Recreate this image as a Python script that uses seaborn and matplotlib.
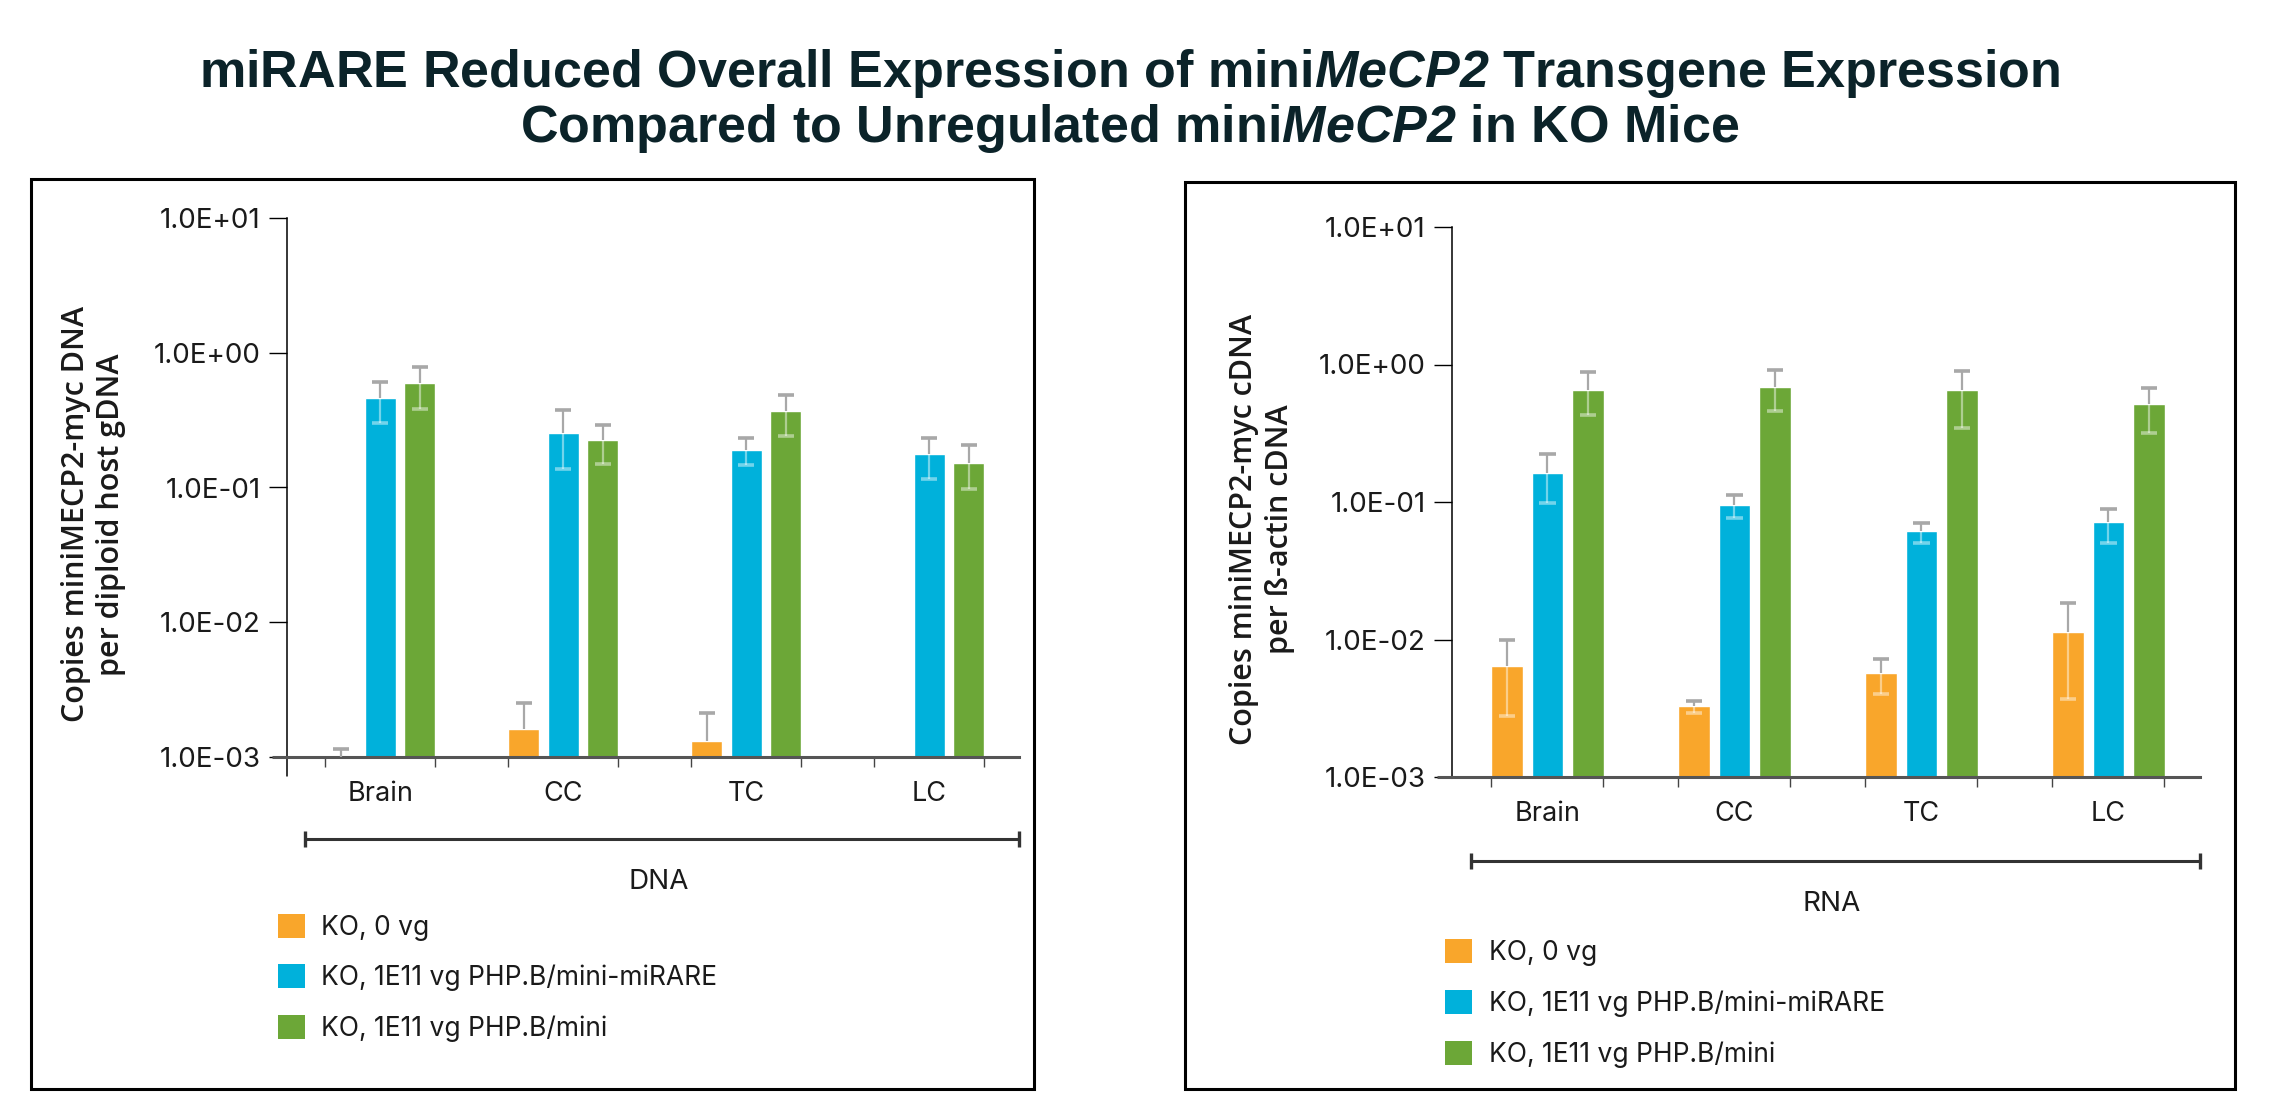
import numpy as np
import pandas as pd
import seaborn as sns
import matplotlib.pyplot as plt
from matplotlib.patches import Patch, Rectangle
from matplotlib.ticker import NullLocator

# ---- data ----
categories = ["Brain", "CC", "TC", "LC"]
groups = ["KO, 0 vg", "KO, 1E11 vg PHP.B/mini-miRARE", "KO, 1E11 vg PHP.B/mini"]
colors = ["#F9A62B", "#00B1DB", "#6CA737"]

ytick_values = [1e-3, 1e-2, 1e-1, 1e0, 1e1]
ytick_labels = ["1.0E-03", "1.0E-02", "1.0E-01", "1.0E+00", "1.0E+01"]

nan = np.nan
# DNA panel: bar value, upper whisker end, lower whisker end
dna_ko = [0.001, 0.00162, 0.00133, nan]
dna_ko_hi = [0.00116, 0.00252, 0.00215, nan]
dna_ko_lo = [nan, nan, nan, nan]
dna_mirare = [0.46, 0.254, 0.19, 0.177]
dna_mirare_hi = [0.605, 0.376, 0.232, 0.232]
dna_mirare_lo = [0.30, 0.137, 0.148, 0.116]
dna_mini = [0.59, 0.223, 0.37, 0.153]
dna_mini_hi = [0.78, 0.292, 0.483, 0.205]
dna_mini_lo = [0.38, 0.149, 0.24, 0.0973]

# RNA panel
rna_ko = [0.0064, 0.00326, 0.00575, 0.0114]
rna_ko_hi = [0.0099, 0.00358, 0.0072, 0.0184]
rna_ko_lo = [0.0028, 0.0029, 0.00403, 0.0037]
rna_mirare = [0.163, 0.095, 0.0612, 0.0713]
rna_mirare_hi = [0.222, 0.113, 0.0703, 0.0887]
rna_mirare_lo = [0.098, 0.076, 0.0505, 0.0505]
rna_mini = [0.649, 0.686, 0.649, 0.514]
rna_mini_hi = [0.88, 0.915, 0.896, 0.672]
rna_mini_lo = [0.43, 0.457, 0.345, 0.32]


def long_table(means, highs, lows):
    rows = []
    for g, m, h, l in zip(groups, means, highs, lows):
        for c, mv, hv, lv in zip(categories, m, h, l):
            rows.append({"tissue": c, "group": g, "value": mv, "hi": hv, "lo": lv})
    return pd.DataFrame(rows)


dna_df = long_table([dna_ko, dna_mirare, dna_mini],
                    [dna_ko_hi, dna_mirare_hi, dna_mini_hi],
                    [dna_ko_lo, dna_mirare_lo, dna_mini_lo])
rna_df = long_table([rna_ko, rna_mirare, rna_mini],
                    [rna_ko_hi, rna_mirare_hi, rna_mini_hi],
                    [rna_ko_lo, rna_mirare_lo, rna_mini_lo])

sns.set_style("ticks")
plt.rcParams["font.family"] = ["Inter", "DejaVu Sans"]
plt.rcParams["mathtext.fontset"] = "custom"
plt.rcParams["mathtext.it"] = "Liberation Sans:italic:bold"
plt.rcParams["mathtext.rm"] = "Liberation Sans:italic:bold"

W, H = 2274, 1107
fig = plt.figure(figsize=(W / 100, H / 100), dpi=100)


def px_box(x0, y0, x1, y1):
    # pixel box (top-left origin) -> figure fraction [left, bottom, width, height]
    return [x0 / W, 1 - y1 / H, (x1 - x0) / W, (y1 - y0) / H]


def draw_panel(ax, df, ylabel, ylabel_x, section, legend_xy, extend_y):
    sns.barplot(data=df, x="tissue", y="value", hue="group",
                order=categories, hue_order=groups, palette=colors,
                width=0.648, gap=0.22, errorbar=None, saturation=1,
                legend=False, ax=ax)
    ax.set_yscale("log")
    ax.set_ylim(1e-3, 1e1)
    ax.set_xlim(-0.51, 3.49)

    # error bars: grey above the bar, pale tint inside the bar
    cap = 0.044
    for hi_idx, cont in enumerate(ax.containers):
        g = groups[hi_idx]
        for bar in cont:
            xc = bar.get_x() + bar.get_width() / 2
            c = categories[int(round(xc))]
            row = df[(df.tissue == c) & (df.group == g)].iloc[0]
            if np.isnan(row.value):
                continue
            if not np.isnan(row.hi):
                ax.vlines(xc, row.value, row.hi, color="#a8a8a8", lw=1.6, zorder=3)
                ax.hlines(row.hi, xc - cap, xc + cap, color="#a8a8a8", lw=2.6, zorder=3)
            if not np.isnan(row.lo):
                ax.vlines(xc, row.lo, row.value, color="white", alpha=0.45, lw=1.6, zorder=3)
                ax.hlines(row.lo, xc - cap, xc + cap, color="white", alpha=0.45, lw=2.6, zorder=3)

    ax.set_yticks(ytick_values)
    ax.set_yticklabels(ytick_labels)
    ax.yaxis.set_minor_locator(NullLocator())
    ax.tick_params(axis="y", which="major", length=13, width=1, color="black",
                   pad=6, labelsize=20, labelcolor="#1a1a1a")

    ax.set_xticks(range(len(categories)))
    ax.set_xticklabels(categories)
    ax.tick_params(axis="x", which="major", length=0, pad=17, labelsize=19.5,
                   labelcolor="#1a1a1a")
    edges = [c + s * 0.30 for c in range(len(categories)) for s in (-1, 1)]
    ax.set_xticks(edges, minor=True)
    ax.tick_params(axis="x", which="minor", length=7.5, width=1, color="#444444")

    ax.set_xlabel("")
    ax.set_ylabel(ylabel, fontsize=22, family=["Open Sans", "DejaVu Sans"],
                  fontweight="semibold", color="#1a1a1a", linespacing=1.25)
    ax.yaxis.label.set_va("center")
    ax.yaxis.set_label_coords(ylabel_x, 0.45)

    sns.despine(ax=ax)
    ax.spines["left"].set_color("black")
    ax.spines["left"].set_linewidth(1.1)
    ax.spines["bottom"].set_color("#555555")
    ax.spines["bottom"].set_linewidth(2.2)
    ax.plot([-0.02, 0], [0, 0], transform=ax.transAxes, clip_on=False,
            color="#555555", lw=2.2, solid_capstyle="butt")
    if extend_y:
        ax.plot([0, 0], [0, -0.035], transform=ax.transAxes, clip_on=False,
                color="black", lw=1.1)

    # section bracket and its name
    ax.plot([0.025, 1.0], [-0.152, -0.152], transform=ax.transAxes, clip_on=False,
            color="#333333", lw=2.2, marker="|", markersize=11, mew=2.4)
    ax.text(0.508, -0.231, section, transform=ax.transAxes, ha="center", va="center",
            fontsize=20, color="#1a1a1a")

    handles = [Patch(facecolor=c, edgecolor="none", label=g) for c, g in zip(colors, groups)]
    ax.legend(handles=handles, loc="upper left", bbox_to_anchor=legend_xy,
              frameon=False, fontsize=19, handlelength=1.02, handleheight=1.02,
              handletextpad=0.62, labelspacing=0.9, borderpad=0, borderaxespad=0,
              labelcolor="#1a1a1a")


ax1 = fig.add_axes(px_box(287, 217.6, 1019, 757.4))
draw_panel(ax1, dna_df, "Copies miniMECP2-myc DNA\nper diploid host gDNA", -0.2645,
           "DNA", (-0.012, -0.2895), True)

ax2 = fig.add_axes(px_box(1452, 227, 2200, 777))
draw_panel(ax2, rna_df, "Copies miniMECP2-myc cDNA\nper ß-actin cDNA", -0.254,
           "RNA", (-0.009, -0.295), False)

# panel frames
for x0, y0, x1, y1 in [(31, 179, 1034, 1089), (1185, 182, 2235, 1089)]:
    l, b, w, h = px_box(x0, y0, x1, y1)
    fig.add_artist(Rectangle((l, b), w, h, transform=fig.transFigure, fill=False,
                             ec="black", lw=2.2))

title_kw = dict(ha="center", va="baseline", fontsize=37.5, fontweight="bold",
                family="Liberation Sans", color="#0b2329")
fig.text(0.497, 1 - 87 / H,
         r"miRARE Reduced Overall Expression of mini$\mathit{MeCP2}$ Transgene Expression",
         **title_kw)
fig.text(0.497, 1 - 142 / H,
         r"Compared to Unregulated mini$\mathit{MeCP2}$ in KO Mice", **title_kw)

fig.savefig("out.png", dpi=100, facecolor="white")
